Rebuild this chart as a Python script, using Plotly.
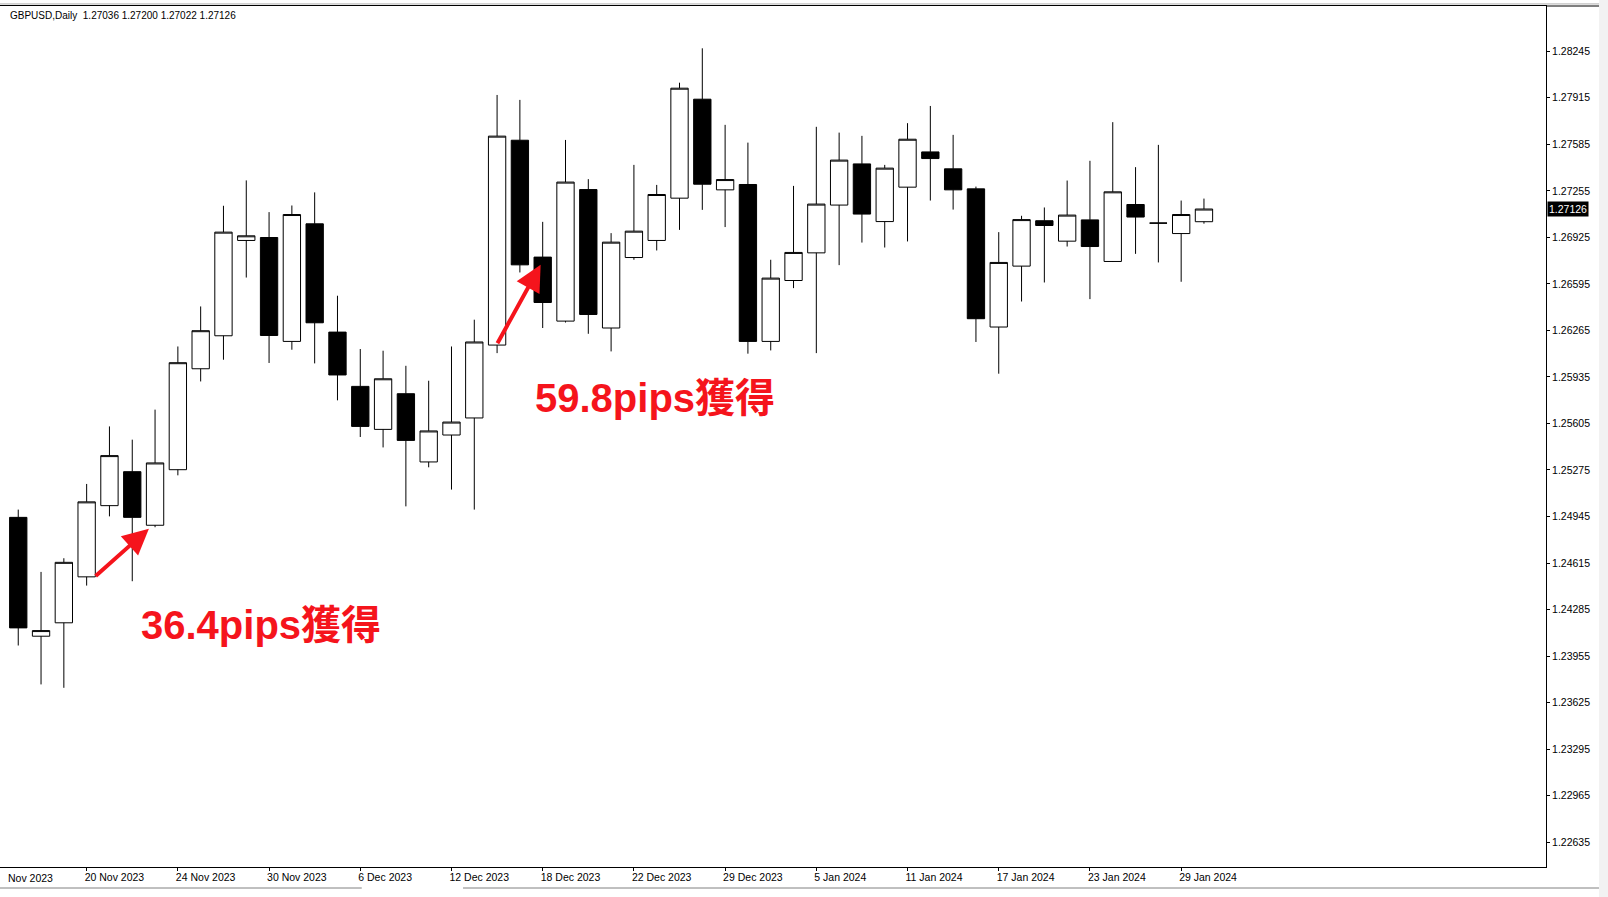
import pandas as pd
import plotly.graph_objects as go

# ---- data (GBPUSD daily) ----
dates = pd.bdate_range("2023-11-15", "2024-01-30")
dates = [d for d in dates if not (d.month == 12 and d.day == 25) and not (d.month == 1 and d.day == 1)]
dates = [d.strftime("%Y-%m-%d") for d in dates]

opens = [1.24939, 1.24096, 1.24191, 1.24517, 1.25022, 1.25263, 1.24883, 1.25277, 1.25993, 1.26227,
         1.26903, 1.26924, 1.26187, 1.27021, 1.26253, 1.25868, 1.25563, 1.25816, 1.25332, 1.25523,
         1.25644, 1.26161, 1.27614, 1.26785, 1.26331, 1.27264, 1.26282, 1.26782, 1.26903, 1.27203,
         1.27905, 1.27262, 1.27300, 1.26187, 1.26619, 1.26815, 1.27154, 1.27446, 1.27037, 1.27281,
         1.27531, 1.27411, 1.27269, 1.26289, 1.26721, 1.27043, 1.26898, 1.27049, 1.26754, 1.27158,
         1.27026, 1.26952, 1.27036]
highs = [1.24994, 1.24552, 1.24649, 1.25176, 1.25584, 1.25490, 1.25703, 1.26151, 1.26435, 1.27149,
         1.27329, 1.27104, 1.27151, 1.27244, 1.26511, 1.26133, 1.26121, 1.26014, 1.25908, 1.26151,
         1.26341, 1.27935, 1.27900, 1.27035, 1.27616, 1.27338, 1.26955, 1.27439, 1.27297, 1.28022,
         1.28266, 1.27723, 1.27597, 1.26766, 1.27290, 1.27709, 1.27668, 1.27645, 1.27439, 1.27735,
         1.27857, 1.27652, 1.27285, 1.26962, 1.27078, 1.27137, 1.27328, 1.27468, 1.27742, 1.27423,
         1.27581, 1.27186, 1.27200]
lows = [1.24030, 1.23754, 1.23730, 1.24455, 1.24946, 1.24486, 1.24869, 1.25237, 1.25903, 1.26057,
        1.26640, 1.26034, 1.26128, 1.26031, 1.25769, 1.25509, 1.25435, 1.25017, 1.25294, 1.25136,
        1.24994, 1.26104, 1.26676, 1.26282, 1.26321, 1.26241, 1.26116, 1.26766, 1.26832, 1.26978,
        1.27120, 1.26998, 1.26100, 1.26123, 1.26565, 1.26104, 1.26728, 1.26888, 1.26853, 1.26896,
        1.27186, 1.27122, 1.26183, 1.25958, 1.26470, 1.26605, 1.26860, 1.26487, 1.26750, 1.26808,
        1.26747, 1.26610, 1.27022]
closes = [1.24155, 1.24136, 1.24620, 1.25049, 1.25377, 1.24939, 1.25325, 1.26036, 1.26263, 1.26962,
          1.26936, 1.26229, 1.27087, 1.26319, 1.25949, 1.25584, 1.25922, 1.25485, 1.25552, 1.25615,
          1.26183, 1.27643, 1.26730, 1.26463, 1.27317, 1.26378, 1.26891, 1.26969, 1.27229, 1.27983,
          1.27302, 1.27335, 1.26187, 1.26636, 1.26818, 1.27161, 1.27473, 1.27090, 1.27416, 1.27621,
          1.27484, 1.27262, 1.26348, 1.26747, 1.27051, 1.27009, 1.27083, 1.26860, 1.27248, 1.27069,
          1.27026, 1.27087, 1.27126]

symbol = "GBPUSD,Daily"
price_ticks = [round(1.22635 + 0.0033 * k, 5) for k in range(18)]
label_idx = list(range(3, len(dates), 4))
label_dates = [dates[i] for i in label_idx]
label_text = [pd.Timestamp(d).strftime("%-d %b %Y") for d in label_dates]

# annotations: arrow from (x0, y0) to (x1, y1) in candle-index / price units, text at (tx, ty)
gains = [
    dict(x0=3.33, y0=1.24514, x1=5.73, y1=1.24859, text="36.4pips獲得", tx=5.30, ty=1.24172),
    dict(x0=20.98, y0=1.26163, x1=22.91, y1=1.26730, text="59.8pips獲得", tx=22.58, ty=1.25788),
]

FONT = "Liberation Sans, Arial, sans-serif"
RED = "#f5141c"

fig = go.Figure(go.Candlestick(
    x=dates, open=opens, high=highs, low=lows, close=closes,
    increasing=dict(fillcolor="white", line=dict(color="black", width=1)),
    decreasing=dict(fillcolor="black", line=dict(color="black", width=1)),
    whiskerwidth=0, showlegend=False, hoverinfo="skip",
))

annotations = []
for g in gains:
    annotations.append(dict(x=g["x1"], y=g["y1"], ax=g["x0"], ay=g["y0"], xref="x", yref="y",
                            axref="x", ayref="y", text="", showarrow=True, arrowhead=2,
                            arrowsize=1.3, arrowwidth=4, arrowcolor=RED, standoff=0))
    annotations.append(dict(x=g["tx"], y=g["ty"], xref="x", yref="y", text=g["text"], showarrow=False,
                            xanchor="left", yanchor="middle",
                            font=dict(family="Liberation Sans, Arial, Noto Sans CJK JP", size=40,
                                      color=RED, weight="bold")))

header = f"{symbol}\u00a0\u00a0{opens[-1]:.5f} {highs[-1]:.5f} {lows[-1]:.5f} {closes[-1]:.5f}"
annotations.append(dict(x=0, y=1, xref="paper", yref="paper", xanchor="left", yanchor="middle",
                        xshift=8, yshift=-9, text=header, showarrow=False,
                        font=dict(family=FONT, size=10, color="black")))
annotations.append(dict(x=0, y=0, xref="paper", yref="paper", xanchor="left", yanchor="top",
                        xshift=6, yshift=-3, text="Nov 2023", showarrow=False,
                        font=dict(family=FONT, size=10.5, color="black")))
annotations.append(dict(x=1, y=closes[-1], xref="paper", yref="y", xanchor="left", yanchor="middle",
                        xshift=1, text=f"{closes[-1]:.5f}", showarrow=False, bgcolor="black",
                        borderpad=1, font=dict(family=FONT, size=10.5, color="white")))

# window chrome: light strip at the right, top line extension, bottom scrollbar line
shapes = [
    dict(type="rect", xref="paper", yref="paper", x0=1.0343, x1=1.05, y0=-0.05, y1=1.01,
         fillcolor="#f2f2f2", line=dict(width=0), layer="below"),
    dict(type="line", xref="paper", yref="paper", x0=1.0, x1=1.0343, y0=1.0, y1=1.0,
         line=dict(color="black", width=1)),
    dict(type="line", xref="paper", yref="paper", x0=0.0, x1=1.0343, y0=1.0024, y1=1.0024,
         line=dict(color="#b0b0b0", width=1)),
    dict(type="line", xref="paper", yref="paper", x0=0.0, x1=0.234, y0=-0.0244, y1=-0.0244,
         line=dict(color="#808080", width=1)),
    dict(type="line", xref="paper", yref="paper", x0=0.2995, x1=1.0343, y0=-0.0244, y1=-0.0244,
         line=dict(color="#808080", width=1)),
]

fig.update_layout(
    width=1608, height=897,
    margin=dict(l=0, r=62, t=6, b=30),
    paper_bgcolor="white", plot_bgcolor="white",
    boxgap=0.24, boxgroupgap=0,
    annotations=annotations,
    shapes=shapes,
    xaxis=dict(type="category", range=[-0.80, 67.0], rangeslider=dict(visible=False),
               showgrid=False, zeroline=False, showline=True, linecolor="black", linewidth=1,
               mirror=True, ticks="outside", ticklen=3, tickcolor="black",
               tickvals=label_dates, ticktext=label_text, ticklabelposition="outside right",
               ticklabelshift=-3,
               tickfont=dict(family=FONT, size=10.5, color="black")),
    yaxis=dict(side="right", range=[1.22459, 1.28566], showgrid=False, zeroline=False,
               showline=True, linecolor="black", linewidth=1, ticks="outside", ticklen=3,
               tickcolor="black", tickvals=price_ticks, tickformat=".5f",
               tickfont=dict(family=FONT, size=10.5, color="black")),
)

fig.write_html("out.html", config={"displayModeBar": False},
               post_script="document.body.style.margin='0';")
